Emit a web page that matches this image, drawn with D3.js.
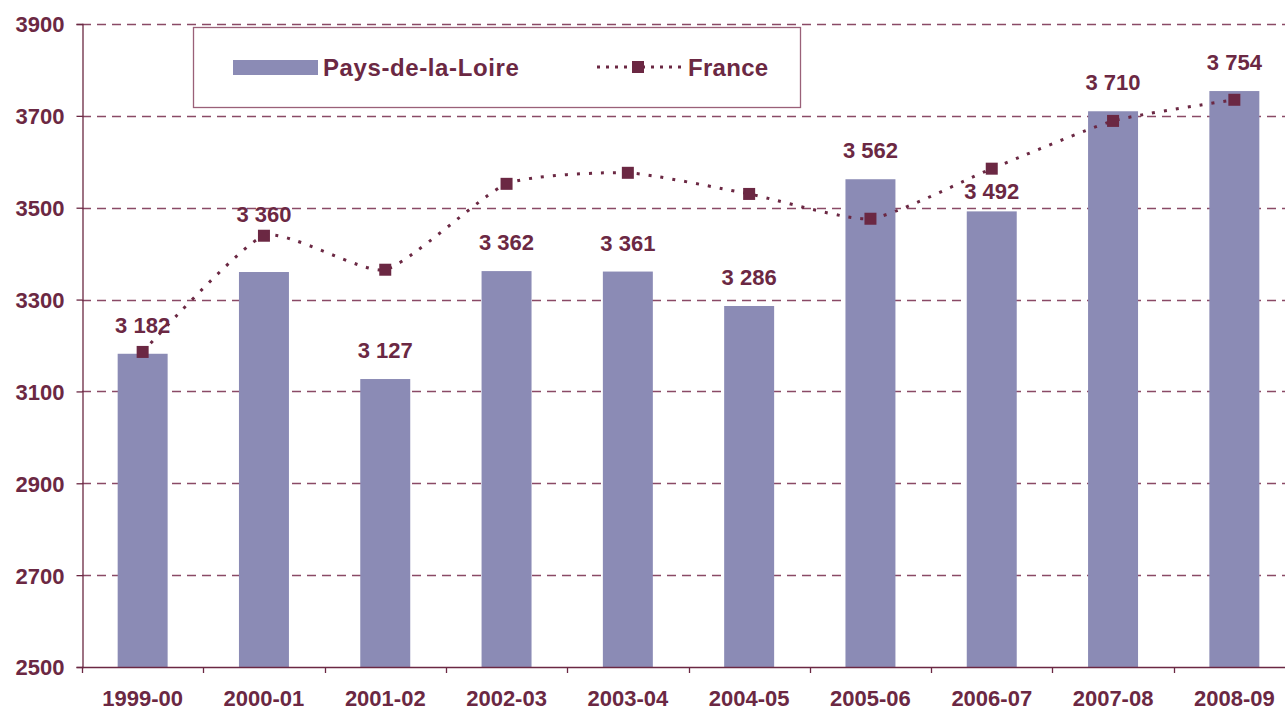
<!DOCTYPE html>
<html>
<head>
<meta charset="utf-8">
<script src="https://cdn.jsdelivr.net/npm/d3@7"></script>
<style>
  body { margin: 0; background: #fff; overflow: hidden; }
  text { font-family: "Liberation Sans", Arial, sans-serif; font-weight: bold; fill: #6b2843; }
</style>
</head>
<body>
<div id="chart"></div>
<script>
// school years on the x axis
const years = ["1999-00","2000-01","2001-02","2002-03","2003-04","2004-05","2005-06","2006-07","2007-08","2008-09"]
// regional values (bars)
const paysLoire = [3182, 3360, 3127, 3362, 3361, 3286, 3562, 3492, 3710, 3754]
// national values (dotted line)
const france = [3186, 3439, 3365, 3552, 3576, 3530, 3476, 3585, 3689, 3735]
const yTicks = [2500, 2700, 2900, 3100, 3300, 3500, 3700, 3900]

const W = 1285, H = 710
// plot runs slightly past the right edge of the picture, as in the original
const margin = { top: 24, right: -10, bottom: 43, left: 82 }
const ink = "#6b2843"
const barColor = "#8b8bb5"

const svg = d3.select("#chart").append("svg")
  .attr("width", W).attr("height", H)
  .style("display", "block")

const x = d3.scaleBand().domain(years)
  .range([margin.left, W - margin.right])
  .paddingInner(0.588).paddingOuter(0.294)
const y = d3.scaleLinear().domain([2500, 3900])
  .range([H - margin.bottom, margin.top])

// dashed grid lines behind the bars
svg.append("g").selectAll("line")
  .data(yTicks.filter(d => d > 2500)).join("line")
  .attr("x1", margin.left).attr("x2", W)
  .attr("y1", d => Math.round(y(d)) + 0.5).attr("y2", d => Math.round(y(d)) + 0.5)
  .attr("stroke", "#8a4a66").attr("stroke-width", 1.3)
  .attr("stroke-dasharray", "9,6")

// bars
svg.append("g").selectAll("rect")
  .data(years).join("rect")
  .attr("x", d => x(d))
  .attr("width", x.bandwidth())
  .attr("y", (d, i) => y(paysLoire[i]))
  .attr("height", (d, i) => y(2500) - y(paysLoire[i]))
  .attr("fill", barColor)

// y axis
const yAxis = svg.append("g")
  .attr("transform", `translate(${margin.left + 0.5},0)`)
  .call(d3.axisLeft(y).tickValues(yTicks).tickSize(6).tickPadding(12).tickFormat(d3.format("d")))
yAxis.select(".domain").attr("stroke", ink).attr("stroke-width", 1.3)
yAxis.selectAll(".tick line").attr("stroke", ink).attr("stroke-width", 1.3)
yAxis.selectAll("text").style("font-size", "22px").attr("fill", ink).attr("dy", "0.36em")

// x axis: ticks sit between categories
const step = x.step()
const bounds = d3.range(years.length + 1).map(i => margin.left + i * step)
const xAxis = svg.append("g")
xAxis.append("line")
  .attr("x1", margin.left).attr("x2", W)
  .attr("y1", y(2500) + 0.5).attr("y2", y(2500) + 0.5)
  .attr("stroke", ink).attr("stroke-width", 1.3)
xAxis.selectAll("line.tk")
  .data(bounds.slice(0, -1)).join("line").attr("class", "tk")
  .attr("x1", d => Math.round(d) + 0.5).attr("x2", d => Math.round(d) + 0.5)
  .attr("y1", y(2500)).attr("y2", y(2500) + 6)
  .attr("stroke", ink).attr("stroke-width", 1.3)
xAxis.selectAll("text")
  .data(years).join("text")
  .attr("x", d => x(d) + x.bandwidth() / 2)
  .attr("y", 706)
  .attr("text-anchor", "middle")
  .style("font-size", "22px")
  .text(d => d)

// France line, smooth and dotted
const pts = years.map((d, i) => [x(d) + x.bandwidth() / 2, y(france[i])])
svg.append("path")
  .attr("d", d3.line().curve(d3.curveCardinal.tension(0.45))(pts))
  .attr("fill", "none").attr("stroke", ink)
  .attr("stroke-width", 3).attr("stroke-dasharray", "3,9")

svg.append("g").selectAll("rect")
  .data(pts).join("rect")
  .attr("x", d => d[0] - 6).attr("y", d => d[1] - 6)
  .attr("width", 12).attr("height", 12)
  .attr("fill", ink)

// value labels (some were nudged in the original to clear the line)
const fmt = v => d3.format(",")(v).replace(",", " ")
const nudge = { "2000-01": -29, "2006-07": 9 }
svg.append("g").selectAll("text")
  .data(years).join("text")
  .attr("x", d => x(d) + x.bandwidth() / 2)
  .attr("y", (d, i) => y(paysLoire[i]) - 21 + (nudge[d] || 0))
  .attr("text-anchor", "middle")
  .style("font-size", "22px")
  .text((d, i) => fmt(paysLoire[i]))

// legend
const lg = svg.append("g")
lg.append("rect")
  .attr("x", 193.5).attr("y", 27.5).attr("width", 607).attr("height", 80)
  .attr("fill", "#fff").attr("stroke", "#9a6078").attr("stroke-width", 1.3)
lg.append("rect")
  .attr("x", 233).attr("y", 60).attr("width", 85).attr("height", 15)
  .attr("fill", barColor)
lg.append("text").attr("x", 323).attr("y", 76)
  .style("font-size", "24px").style("letter-spacing", "0.6px").text("Pays-de-la-Loire")
lg.append("line")
  .attr("x1", 597).attr("x2", 681).attr("y1", 67).attr("y2", 67)
  .attr("stroke", ink).attr("stroke-width", 3).attr("stroke-dasharray", "3,6")
lg.append("rect")
  .attr("x", 632).attr("y", 61).attr("width", 12).attr("height", 12)
  .attr("fill", ink)
lg.append("text").attr("x", 688).attr("y", 76)
  .style("font-size", "24px").style("letter-spacing", "0.3px").text("France")
</script>
</body>
</html>
